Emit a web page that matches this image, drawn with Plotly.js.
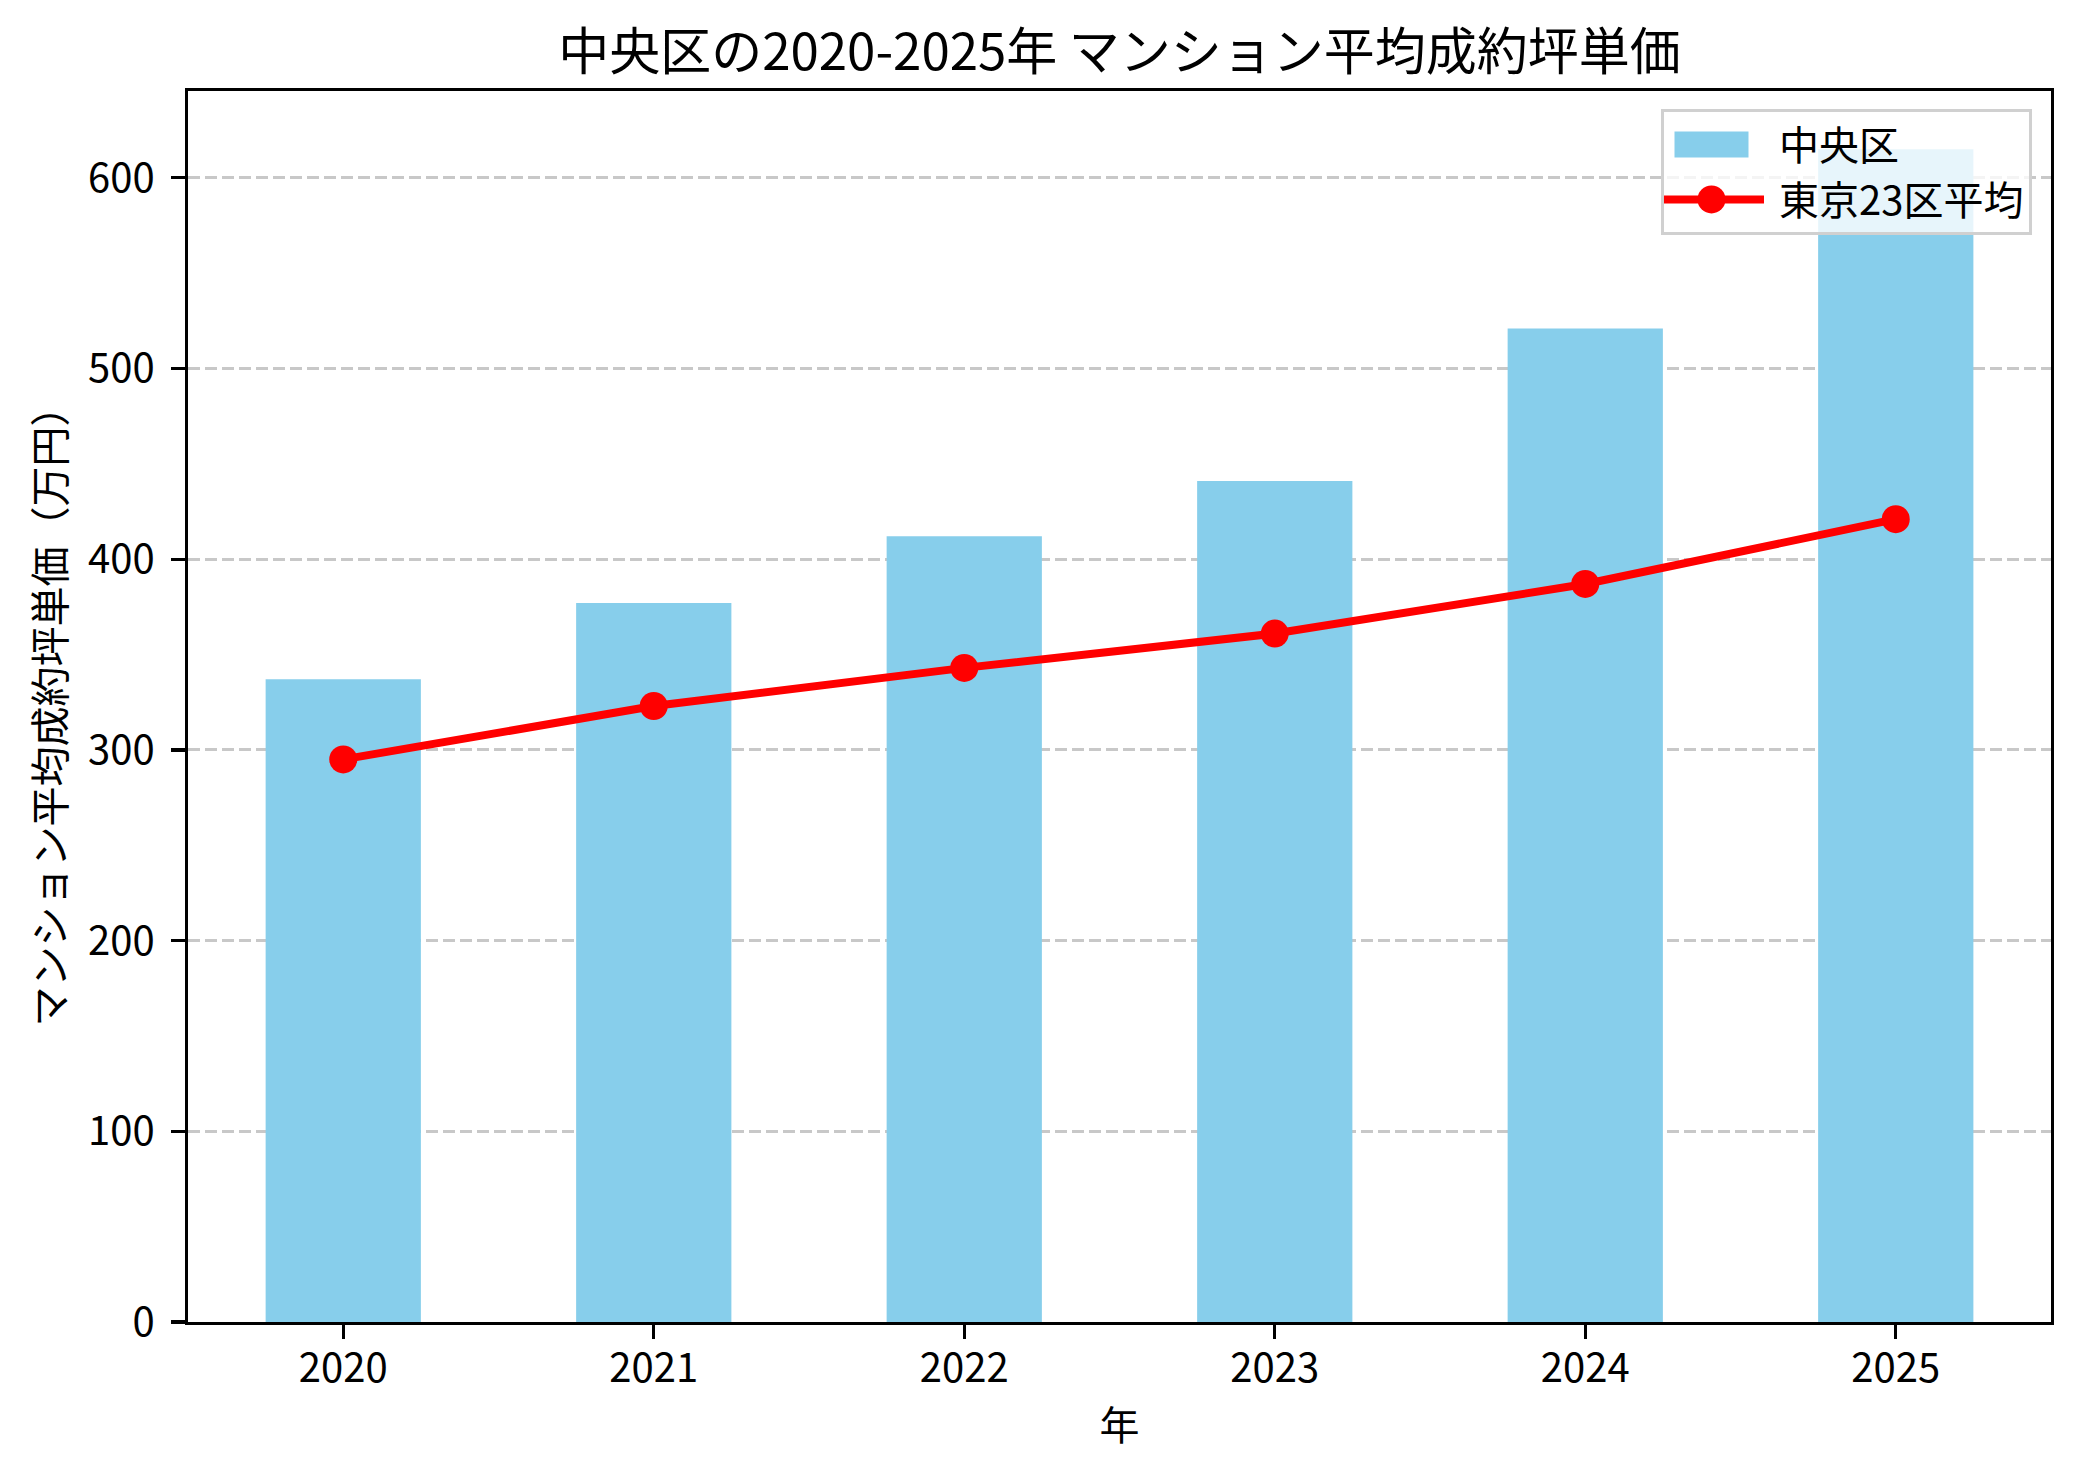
<!DOCTYPE html>
<html>
<head>
<meta charset="utf-8">
<script src="https://cdn.plot.ly/plotly-3.0.1.min.js"></script>
<style>html,body{margin:0;padding:0;background:#fff;}</style>
</head>
<body>
<div id="chart" style="width:2079px;height:1474px;"></div>
<script>
const years = ["2020", "2021", "2022", "2023", "2024", "2025"];
const chuoValues = [337, 377, 412, 441, 521, 615];
const tokyo23Values = [295, 323, 343, 361, 387, 421];
const yTicks = [0, 100, 200, 300, 400, 500, 600];

const FONT = '"Noto Sans CJK JP", "Noto Sans", sans-serif';

const traces = [
  {
    type: 'bar',
    x: years,
    y: chuoValues,
    name: '中央区',
    width: 0.5,
    marker: {color: '#87CEEB', line: {width: 0}}
  },
  {
    type: 'scatter',
    mode: 'lines+markers',
    x: years,
    y: tokyo23Values,
    name: '東京23区平均',
    line: {color: '#FF0000', width: 8},
    marker: {color: '#FF0000', size: 28}
  }
];

const layout = {
  width: 2079,
  height: 1474,
  margin: {l: 188, r: 28, t: 91, b: 152},
  paper_bgcolor: '#ffffff',
  plot_bgcolor: '#ffffff',
  font: {family: FONT, size: 40, color: '#000'},
  title: {
    text: '中央区の2020-2025年 マンション平均成約坪単価',
    font: {family: FONT, size: 51, color: '#000'},
    x: 0.5, xanchor: 'center', xref: 'paper',
    y: 1 - 52/1474, yanchor: 'middle'
  },
  showlegend: true,
  legend: {
    x: 0.9898, xanchor: 'right',
    y: 0.9854, yanchor: 'top',
    bgcolor: 'rgba(255,255,255,0.8)',
    bordercolor: '#d0d0d0',
    borderwidth: 3,
    font: {family: FONT, size: 40, color: '#000'},
    traceorder: 'normal',
    itemwidth: 105
  },
  xaxis: {
    type: 'category',
    range: [-0.5, 5.5],
    tickvals: years,
    ticktext: years,
    showline: true, linecolor: '#000', linewidth: 3.3, mirror: true,
    ticks: 'outside', ticklen: 14, tickwidth: 3.3, tickcolor: '#000',
    ticklabelstandoff: -5,
    showgrid: false, zeroline: false,
    tickfont: {family: FONT, size: 40, color: '#000'},
    title: {text: '年', font: {family: FONT, size: 40, color: '#000'}, standoff: 19}
  },
  yaxis: {
    range: [0, 645.5],
    tickvals: yTicks,
    ticktext: yTicks.map(String),
    showline: true, linecolor: '#000', linewidth: 3.3, mirror: true,
    ticks: 'outside', ticklen: 14, tickwidth: 3.3, tickcolor: '#000',
    ticklabelstandoff: 8,
    showgrid: true, gridcolor: '#c8c8c8', gridwidth: 3, griddash: '12px,5px',
    zeroline: false,
    tickfont: {family: FONT, size: 40, color: '#000'},
    title: {text: 'マンション平均成約坪単価（万円）', font: {family: FONT, size: 40, color: '#000'}, standoff: 11}
  }
};

function restyleLegendSymbols(gd) {
  gd.querySelectorAll('.legend g.legendpoints path').forEach(function (p) {
    const cls = p.getAttribute('class') || '';
    if (cls.indexOf('legendbar') >= 0 || cls.indexOf('legendundefined') >= 0) {
      p.setAttribute('d', 'M37,13H-37V-13H37Z');
    } else if (cls.indexOf('scatterpts') >= 0) {
      p.setAttribute('d', 'M14,0A14,14 0 1,1 0,-14A14,14 0 0,1 14,0Z');
    }
  });
  gd.querySelectorAll('.legend g.legendpoints, .legend g.legendlines').forEach(function (g) {
    g.setAttribute('transform', 'translate(-10,0)');
  });
}

const gdEl = document.getElementById('chart');
Plotly.newPlot(gdEl, traces, layout, {displayModeBar: false, staticPlot: true}).then(function (gd) {
  restyleLegendSymbols(gd);
  gd.on('plotly_afterplot', function () { restyleLegendSymbols(gd); });
  setTimeout(function () { restyleLegendSymbols(gd); }, 50);
  setTimeout(function () { restyleLegendSymbols(gd); }, 300);
});
</script>
</body>
</html>
